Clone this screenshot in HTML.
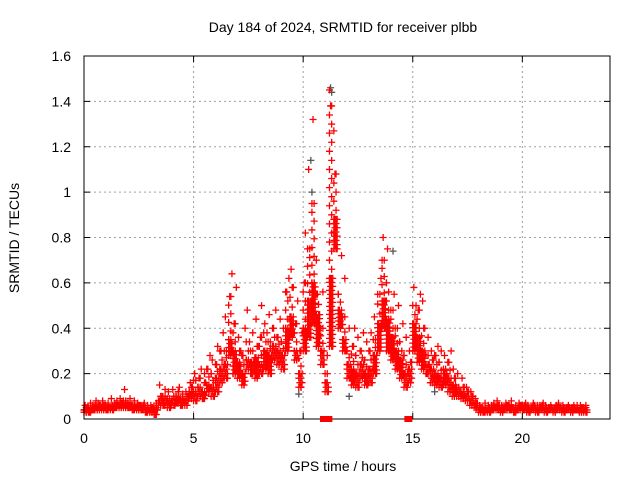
<!DOCTYPE html>
<html><head><meta charset="utf-8"><style>
body{margin:0;background:#fff}
svg{display:block;font-family:"Liberation Sans",sans-serif}
</style></head><body>
<svg id="c" width="640" height="480">
<rect width="640" height="480" fill="#fff"/>
<text x="343" y="32" text-anchor="middle" font-size="14">Day 184 of 2024, SRMTID for receiver plbb</text>
<text x="343" y="471" text-anchor="middle" font-size="14">GPS time / hours</text>
<text transform="translate(19,238) rotate(-90)" text-anchor="middle" font-size="14">SRMTID / TECUs</text>
<g id="grid"></g><g id="gray"></g><g id="red"></g><g id="axes"></g>
</svg>
<script>
const xTicks=[0,5,10,15,20];
const yTicks=[0,0.2,0.4,0.6,0.8,1,1.2,1.4,1.6];
const yTickLabels=["0","0.2","0.4","0.6","0.8","1","1.2","1.4","1.6"];
const binStart=0, binWidth=0.2;
const redBins=[
[.04,.06,.03,.05],[.05,.03,.07,.04],[.06,.04,.05,.08],[.04,.07,.05,.06],[.05,.08,.04,.06],
[.06,.04,.07,.05],[.05,.09,.06,.04],[.07,.05,.08,.06],[.06,.09,.05,.07],[.08,.13,.05,.06],
[.07,.05,.09,.06],[.06,.04,.08,.05],[.05,.07,.04,.06],[.06,.04,.05,.07],[.05,.03,.06,.04],
[.04,.06,.03,.05],[.05,.02,.07,.04],[.08,.15,.06,.10],[.10,.06,.13,.08],[.09,.12,.07,.05],
[.08,.13,.10,.06],[.10,.07,.12,.14],[.09,.06,.11,.08],[.08,.12,.06,.10],[.12,.16,.09,.14],
[.17,.20,.12,.08],[.14,.18,.10,.22],[.12,.09,.20,.16],[.15,.22,.12,.28],[.20,.26,.14,.10],
[.18,.24,.32,.12],[.22,.30,.16,.38],[.24,.45,.30,.18],[.35,.54,.28,.64],[.30,.42,.20,.58],
[.25,.36,.18,.30],[.20,.28,.15,.40],[.26,.48,.22,.34],[.30,.20,.38,.25],[.27,.44,.18,.32],
[.24,.36,.50,.20],[.30,.42,.22,.38],[.28,.46,.34,.20],[.32,.40,.26,.48],[.30,.36,.24,.44],
[.34,.28,.40,.22],[.40,.56,.30,.62],[.45,.66,.36,.58],[.30,.42,.26,.52],[.20,.30,.14,.38],
[.40,.60,.82,.30],[.52,1.10,.75,.36],[.95,1.32,.60,.42],[.70,.55,.32,.46],[.40,.30,.56,.24],
[.20,.16,.28,.12],[1.45,1.38,.62,.32],[1.27,1.08,.88,.75],[.55,.48,.40,.72],[.45,.35,.62,.30],
[.30,.24,.40,.18],[.22,.32,.15,.40],[.28,.20,.36,.14],[.24,.30,.18,.38],[.26,.20,.34,.15],
[.22,.30,.38,.16],[.28,.45,.35,.20],[.55,.42,.30,.62],[.70,.80,.52,.40],[.60,.75,.44,.30],
[.48,.36,.26,.55],[.40,.30,.22,.50],[.34,.26,.18,.42],[.28,.20,.36,.14],[.22,.30,.16,.25],
[.42,.58,.30,.50],[.36,.48,.25,.55],[.30,.52,.22,.40],[.28,.20,.36,.24],[.22,.30,.16,.26],
[.20,.28,.15,.32],[.25,.18,.30,.14],[.22,.28,.15,.20],[.18,.25,.12,.30],[.15,.22,.10,.18],
[.14,.20,.10,.12],[.12,.18,.09,.14],[.10,.14,.08,.12],[.08,.12,.06,.10],[.06,.09,.05,.07],
[.04,.06,.03,.05],[.05,.03,.07,.04],[.04,.06,.05,.03],[.06,.04,.07,.05],[.05,.08,.04,.06],
[.04,.06,.03,.05],[.05,.07,.04,.06],[.06,.04,.08,.05],[.05,.03,.06,.04],[.04,.07,.05,.06],
[.06,.04,.05,.07],[.05,.06,.04,.03],[.04,.05,.07,.06],[.05,.04,.06,.03],[.06,.05,.04,.07],
[.04,.06,.05,.03],[.05,.04,.06,.05],[.04,.05,.03,.06],[.05,.07,.04,.05],[.04,.06,.05,.03],
[.05,.04,.06,.05],[.04,.05,.03,.06],[.05,.04,.06,.04],[.04,.06,.03,.05],[.05,.04,.06,.03]
];
const grayTimes=[10.35,10.4,11.25,11.3,9.8,6.8,12.1,14.1,16.0];
const grayValues=[1.14,1.0,1.46,1.44,0.11,0.2,0.1,0.74,0.12];
const flagTimes=[10.95,11.15,14.8];

const X0=84,X1=610,Y0=419,Y1=56,XMAX=24,YMAX=1.6;
const xs=v=>X0+(X1-X0)*v/XMAX, ys=v=>Y0-(Y0-Y1)*v/YMAX;
const NS="http://www.w3.org/2000/svg";
function mk(t,a,p){const e=document.createElementNS(NS,t);for(const k in a)e.setAttribute(k,a[k]);p.appendChild(e);return e;}
const grid=document.getElementById('grid'),axes=document.getElementById('axes');
xTicks.forEach(t=>{const x=xs(t);
 if(t>0){const g=mk('line',{x1:x,x2:x,y1:Y1,y2:Y0,stroke:'#a0a0a0','stroke-dasharray':'2,3'},grid);
 
 }
 mk('line',{x1:x,x2:x,y1:Y0,y2:Y0-6,stroke:'#000'},axes);
 mk('line',{x1:x,x2:x,y1:Y1,y2:Y1+6,stroke:'#000'},axes);
 const l=mk('text',{x:x,y:443,'text-anchor':'middle','font-size':'14'},axes);l.textContent=t;
 
 
});
yTicks.forEach((t,i)=>{const y=ys(t);
 if(t>0&&t<YMAX){const g=mk('line',{x1:X0,x2:X1,y1:y,y2:y,stroke:'#a0a0a0','stroke-dasharray':'2,3'},grid);
 
 }
 mk('line',{x1:X0,x2:X0+6,y1:y,y2:y,stroke:'#000'},axes);
 mk('line',{x1:X1,x2:X1-6,y1:y,y2:y,stroke:'#000'},axes);
 const l=mk('text',{x:71,y:y+5,'text-anchor':'end','font-size':'14'},axes);l.textContent=yTickLabels[i];
 
 
});
const box=mk('rect',{x:X0,y:Y1,width:X1-X0,height:Y0-Y1,fill:'none',stroke:'#000'},axes);


function plus(g,t,v,c){const x=xs(t),y=ys(v);
 return mk('path',{d:`M${x-3.5},${y}h7M${x},${y-3.5}v7`,stroke:c,'stroke-width':1.3,fill:'none'},g);}
const gg=document.getElementById('gray');
grayTimes.forEach((t,i)=>{const p=plus(gg,t,grayValues[i],'#555');
 
 });
const rg=document.getElementById('red');
function fill(t0,lo,hi,step,cols){
 const n=Math.max(2,Math.round((ys(lo)-ys(hi))/step)+1);
 for(let k=0;k<n;k++){
  const v=lo+(hi-lo)*k/(n-1);
  for(let q=0;q<cols;q++){
   const t=t0+binWidth*((q+0.5*(k%2))/cols);
   const p=plus(rg,t,v,'#f00');
   
   
  }
 }
}
redBins.forEach((bin,i)=>{
 const s=bin.slice().sort((a,b)=>a-b);
 const t0=binStart+i*binWidth;
 fill(t0,s[0],s[1],4,2);
 fill(t0,s[1],s[2],9,1);
});
redBins.forEach((bin,i)=>bin.forEach((v,j)=>{
 const t=binStart+i*binWidth+j*binWidth/bin.length;
 const p=plus(rg,t,v,'#f00');
 
 
}));
flagTimes.forEach(t=>{const r=mk('rect',{x:xs(t)-4,y:Y0-3,width:8,height:6,fill:'#f00'},axes);
 
 });
</script>
</body></html>
